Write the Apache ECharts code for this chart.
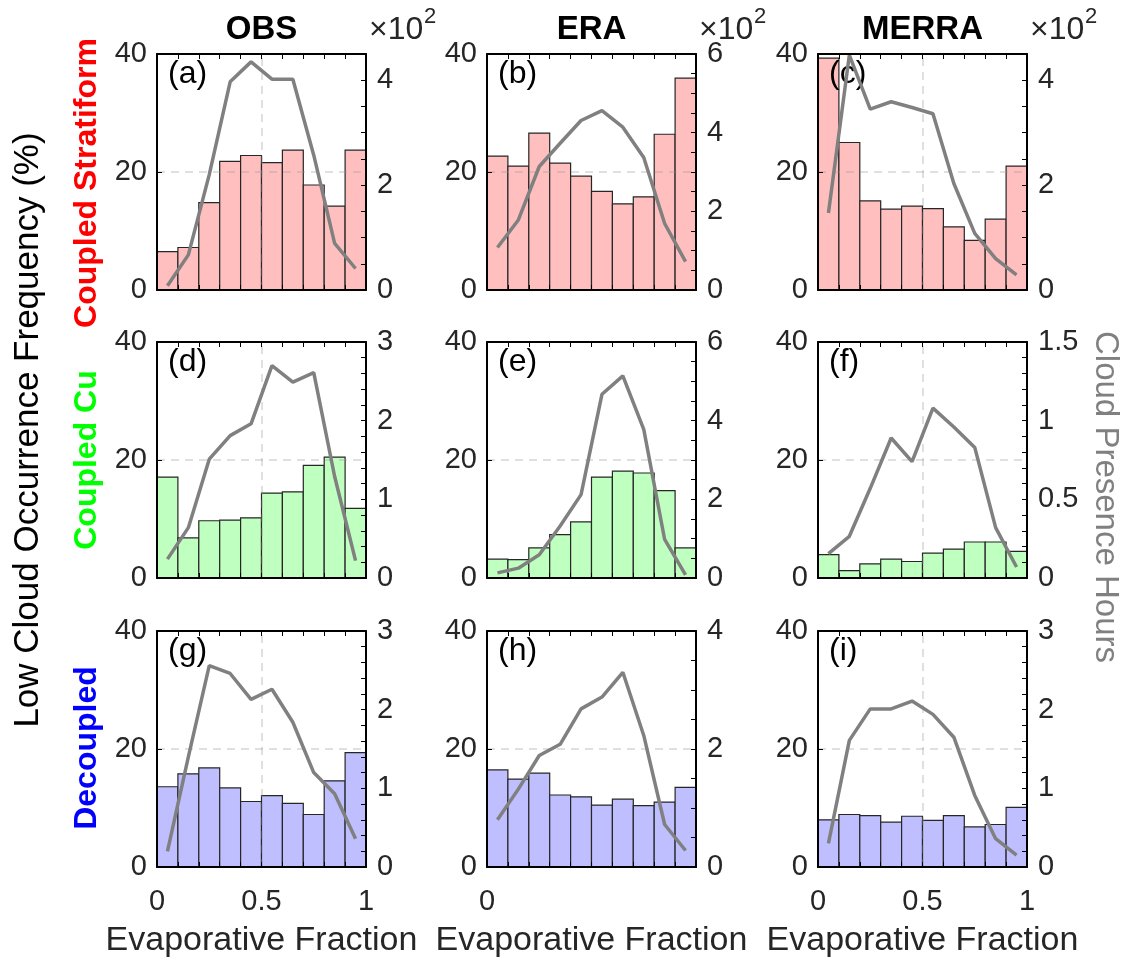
<!DOCTYPE html>
<html>
<head>
<meta charset="utf-8">
<script src="https://cdn.jsdelivr.net/npm/echarts@6/dist/echarts.min.js"></script>
<style>html,body{margin:0;padding:0;background:#fff}#c{width:1132px;height:965px}</style>
</head>
<body>
<div id="c"></div>
<script>
// ---------- data ----------
const binCenters = [0.05, 0.15, 0.25, 0.35, 0.45, 0.55, 0.65, 0.75, 0.85, 0.95];
const binWidth = 0.1;
const columnTitles = ['OBS', 'ERA', 'MERRA'];
const rowTitles = ['Coupled Stratiform', 'Coupled Cu', 'Decoupled'];
const rowColors = ['#ff0000', '#00ff00', '#0000ff'];
const barColors = ['#ffbfbf', '#bfffbf', '#bfbfff'];
const panelLetters = ['(a)', '(b)', '(c)', '(d)', '(e)', '(f)', '(g)', '(h)', '(i)'];

// Low cloud occurrence frequency (%), bars
const freqA = [6.5, 7.2, 14.8, 21.8, 22.8, 21.6, 23.7, 17.8, 14.2, 23.7];
const freqB = [22.7, 21.0, 26.6, 21.5, 19.3, 16.7, 14.6, 15.8, 26.4, 35.9];
const freqC = [39.3, 25.0, 15.1, 13.7, 14.2, 13.8, 10.7, 8.4, 12.0, 21.0];
const freqD = [17.1, 6.8, 9.7, 9.8, 10.2, 14.4, 14.6, 19.1, 20.5, 11.8];
const freqE = [3.2, 3.1, 5.1, 7.35, 9.5, 17.1, 18.1, 17.8, 14.8, 5.1];
const freqF = [3.96, 1.24, 2.4, 3.2, 2.8, 4.2, 4.9, 6.1, 6.1, 4.5];
const freqG = [13.6, 15.8, 16.8, 13.4, 11.1, 12.1, 10.8, 8.9, 14.6, 19.4];
const freqH = [16.45, 14.9, 15.9, 12.2, 11.9, 10.5, 11.5, 10.4, 11.0, 13.5];
const freqI = [8.0, 8.9, 8.7, 7.6, 8.6, 7.9, 8.7, 6.8, 7.2, 10.1];

// Cloud presence hours (row 1 in units of 10^2), lines
const hoursA = [0.08, 0.67, 2.2, 3.97, 4.35, 4.02, 4.02, 2.57, 0.89, 0.41];
const hoursB = [1.08, 1.78, 3.14, 3.73, 4.31, 4.56, 4.14, 3.37, 1.69, 0.72];
const hoursC = [1.47, 4.48, 3.45, 3.59, 3.48, 3.36, 2.03, 1.08, 0.6, 0.29];
const hoursD = [0.24, 0.64, 1.51, 1.81, 1.96, 2.70, 2.49, 2.61, 1.29, 0.22];
const hoursE = [0.13, 0.25, 0.59, 1.32, 2.12, 4.67, 5.14, 3.78, 0.98, 0.08];
const hoursF = [0.155, 0.265, 0.57, 0.89, 0.74, 1.08, 0.96, 0.83, 0.32, 0.07];
const hoursG = [0.20, 1.40, 2.56, 2.46, 2.13, 2.26, 1.84, 1.20, 0.93, 0.36];
const hoursH = [0.80, 1.32, 1.89, 2.08, 2.68, 2.88, 3.30, 2.23, 0.72, 0.28];
const hoursI = [0.30, 1.61, 2.01, 2.01, 2.11, 1.94, 1.65, 0.91, 0.36, 0.15];

// axis settings
const leftMax = 40, leftInterval = 20;
const rightMax = [4.5, 6, 4.5, 3, 6, 1.5, 3, 4, 3];
const rightTickStep = [0.5, 0.5, 0.5, 0.2, 0.5, 0.1, 0.2, 0.5, 0.2];
const rightLabelStep = [2, 2, 2, 1, 2, 0.5, 1, 2, 1];
const xLabelTicksSide = [0, 0.5, 1];
const xLabelTicksMid = [0];

const freqs = [freqA, freqB, freqC, freqD, freqE, freqF, freqG, freqH, freqI];
const hours = [hoursA, hoursB, hoursC, hoursD, hoursE, hoursF, hoursG, hoursH, hoursI];

// ---------- layout ----------
const FONT = '"Liberation Sans", Arial, Helvetica, sans-serif';
const colLeft = [157, 487, 818];
const rowTop = [54, 342, 631];
const PW = 209, PH = 236;
const near = (a, b) => Math.abs(a - b) < 1e-6;
const fmtNum = v => String(parseFloat(v.toFixed(3)));

const grids = [], xAxes = [], yAxes = [], series = [], graphics = [];
const axisLineStyle = { color: '#000', width: 2 };
const tickStyle = { color: '#000', width: 1 };

for (let i = 0; i < 9; i++) {
  const r = Math.floor(i / 3), c = i % 3;
  grids.push({ left: colLeft[c], top: rowTop[r], width: PW, height: PH, containLabel: false });
  const labelTicks = c === 1 ? xLabelTicksMid : xLabelTicksSide;
  xAxes.push({
    gridIndex: i, type: 'value', min: 0, max: 1, interval: 0.1, position: 'bottom', z: 10,
    axisLine: { show: true, onZero: false, lineStyle: axisLineStyle },
    axisTick: { show: true, inside: true, length: 5, lineStyle: tickStyle },
    axisLabel: {
      show: r === 2, margin: 20, fontSize: 29, color: '#262626', fontFamily: FONT, hideOverlap: false,
      formatter: v => { for (const t of labelTicks) if (near(v, t)) return fmtNum(t); return ''; }
    },
    splitLine: { show: false }
  });
  xAxes.push({
    gridIndex: i, type: 'value', min: 0, max: 1, interval: 0.1, position: 'top', z: 10,
    axisLine: { show: true, onZero: false, lineStyle: axisLineStyle },
    axisTick: { show: true, inside: true, length: 5, lineStyle: tickStyle },
    axisLabel: { show: false }, splitLine: { show: false }
  });
  yAxes.push({
    gridIndex: i, type: 'value', min: 0, max: leftMax, interval: leftInterval, position: 'left', z: 10,
    axisLine: { show: true, onZero: false, lineStyle: axisLineStyle },
    axisTick: { show: true, inside: true, length: 5, lineStyle: tickStyle },
    axisLabel: { margin: 10, fontSize: 29, color: '#262626', fontFamily: FONT },
    splitLine: { show: false }
  });
  const ls = rightLabelStep[i];
  yAxes.push({
    gridIndex: i, type: 'value', min: 0, max: rightMax[i], interval: rightTickStep[i], position: 'right', z: 10,
    axisLine: { show: true, onZero: false, lineStyle: axisLineStyle },
    axisTick: { show: true, inside: true, length: 5, lineStyle: tickStyle },
    axisLabel: {
      margin: 11, fontSize: 29, color: '#262626', fontFamily: FONT,
      formatter: v => { const q = v / ls; return Math.abs(q - Math.round(q)) < 1e-6 ? fmtNum(v) : ''; }
    },
    splitLine: { show: false }
  });

  const markData = [{ yAxis: 20 }];
  if (c !== 1) markData.push({ xAxis: 0.5 });
  const fill = barColors[r];
  series.push({
    type: 'custom', xAxisIndex: 2 * i, yAxisIndex: 2 * i, z: 2,
    data: binCenters.map((x, k) => [x, freqs[i][k]]),
    encode: { x: 0, y: 1 },
    renderItem: (params, api) => {
      const xc = api.value(0), v = api.value(1);
      const p0 = api.coord([xc - binWidth / 2, v]);
      const p1 = api.coord([xc + binWidth / 2, 0]);
      return {
        type: 'rect',
        shape: { x: p0[0], y: p0[1], width: p1[0] - p0[0], height: p1[1] - p0[1] },
        style: { fill: fill, stroke: '#262626', lineWidth: 1.2 }
      };
    },
    markLine: {
      silent: true, symbol: ['none', 'none'], z: 4, animation: false,
      label: { show: false },
      lineStyle: { type: [8, 6], color: 'rgba(150,150,150,0.4)', width: 1.5 },
      data: markData
    }
  });
  series.push({
    type: 'line', xAxisIndex: 2 * i, yAxisIndex: 2 * i + 1, z: 6,
    data: binCenters.map((x, k) => [x, hours[i][k]]),
    symbol: 'none', lineStyle: { color: '#808080', width: 3.5 }, animation: false
  });

  graphics.push({
    type: 'text', x: colLeft[c] + 11, y: rowTop[r] + 4, z: 5,
    style: { text: panelLetters[i], font: '32px ' + FONT, fill: '#000', textAlign: 'left', textVerticalAlign: 'top' }
  });
}

// column titles and x10^2 multipliers
for (let c = 0; c < 3; c++) {
  graphics.push({
    type: 'text', x: colLeft[c] + PW / 2, y: 30,
    style: { text: columnTitles[c], font: 'bold 33px ' + FONT, fill: '#000', textAlign: 'center', textVerticalAlign: 'middle' }
  });
  graphics.push({
    type: 'text', x: colLeft[c] + PW + 3, y: 30,
    style: { text: '×10', font: '32px ' + FONT, fill: '#262626', textAlign: 'left', textVerticalAlign: 'middle' }
  });
  graphics.push({
    type: 'text', x: colLeft[c] + PW + 58, y: 17,
    style: { text: '2', font: '22px ' + FONT, fill: '#262626', textAlign: 'left', textVerticalAlign: 'middle' }
  });
  graphics.push({
    type: 'text', x: colLeft[c] + PW / 2, y: 941,
    style: { text: 'Evaporative Fraction', font: '34px ' + FONT, fill: '#262626', textAlign: 'center', textVerticalAlign: 'middle' }
  });
}
// row titles
const rowLabelY = [183, 460, 748];
for (let r = 0; r < 3; r++) {
  graphics.push({
    type: 'text', x: 87, y: rowLabelY[r], rotation: Math.PI / 2,
    style: { text: rowTitles[r], font: 'bold 32px ' + FONT, fill: rowColors[r], textAlign: 'center', textVerticalAlign: 'middle' }
  });
}
graphics.push({
  type: 'text', x: 28, y: 430, rotation: Math.PI / 2,
  style: { text: 'Low Cloud Occurrence Frequency (%)', font: '35px ' + FONT, fill: '#000', textAlign: 'center', textVerticalAlign: 'middle' }
});
graphics.push({
  type: 'text', x: 1105, y: 497, rotation: -Math.PI / 2,
  style: { text: 'Cloud Presence Hours', font: '33px ' + FONT, fill: '#808080', textAlign: 'center', textVerticalAlign: 'middle' }
});

const chart = echarts.init(document.getElementById('c'), null, { renderer: 'canvas' });
chart.setOption({
  backgroundColor: '#fff',
  animation: false,
  textStyle: { fontFamily: FONT },
  grid: grids, xAxis: xAxes, yAxis: yAxes, series: series,
  graphic: { elements: graphics }
});
</script>
</body>
</html>
